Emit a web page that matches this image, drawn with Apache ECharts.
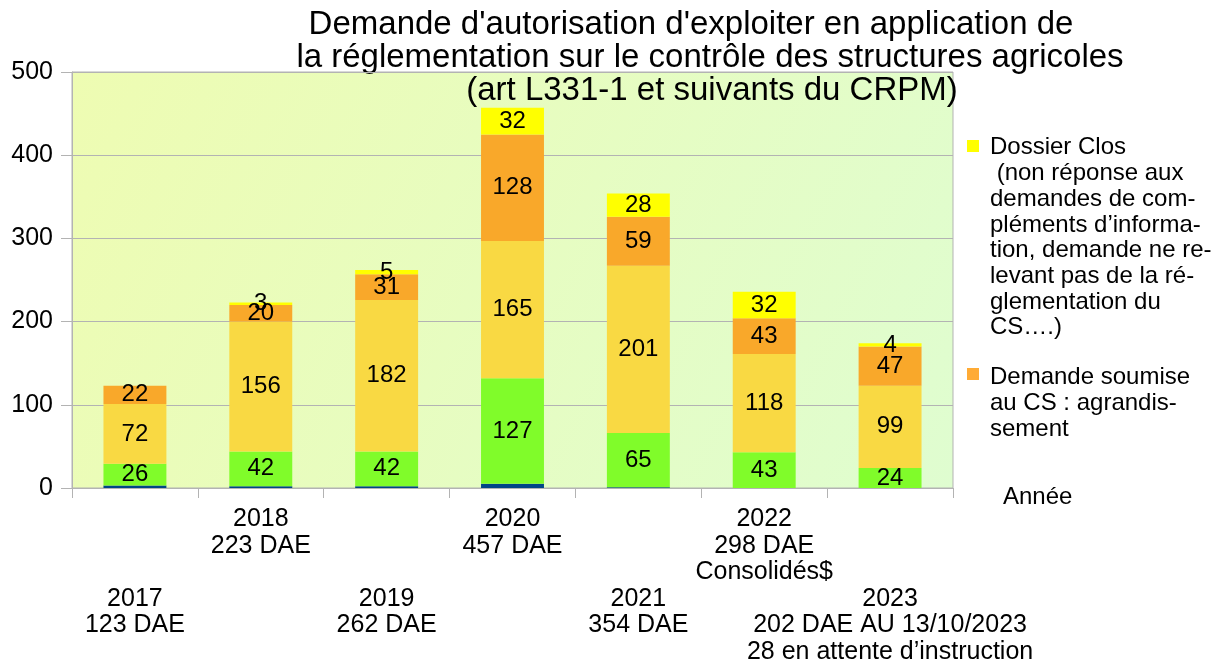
<!DOCTYPE html>
<html><head><meta charset="utf-8">
<script src="https://cdn.jsdelivr.net/npm/echarts@6/dist/echarts.min.js"></script>
<style>html,body{margin:0;padding:0;background:#fff}#c{width:1228px;height:659px}</style>
</head><body><div id="c"></div>
<script>
// ---- data ----
const categories = [
  '2017\n123 DAE',
  '2018\n223 DAE',
  '2019\n262 DAE',
  '2020\n457 DAE',
  '2021\n354 DAE',
  '2022\n298 DAE\nConsolidés$',
  '2023\n202 DAE AU 13/10/2023\n28 en attente d’instruction'
];
const seriesNames = [
  'Autre',
  'Demande non soumise au CS',
  'Demande soumise au CS : installation',
  'Demande soumise au CS : agrandissement',
  'Dossier Clos'
];
const blueValues   = [3, 2, 2, 5, 1, 0, 0];
const greenValues  = [26, 42, 42, 127, 65, 43, 24];
const lightValues  = [72, 156, 182, 165, 201, 118, 99];
const orangeValues = [22, 20, 31, 128, 59, 43, 47];
const yellowValues = [0, 3, 5, 32, 28, 32, 4];
const yTicks = [0, 100, 200, 300, 400, 500];
const titleLines = [
  "Demande d'autorisation d'exploiter en application de",
  "la réglementation sur le contrôle des structures agricoles",
  "(art L331-1 et suivants du CRPM)"
];
const legendTexts = [
  'Dossier Clos\n (non réponse aux\ndemandes de com-\npléments d’informa-\ntion, demande ne re-\nlevant pas de la ré-\nglementation du\nCS….)',
  'Demande soumise\nau CS : agrandis-\nsement'
];
const axisName = 'Année';

// ---- chart ----
const FONT = 'Liberation Sans, Arial, sans-serif';
const colors = ['#004586', '#80fc2a', '#f9d943', '#f9a82a', '#ffff00'];
const legendColors = ['#ffff00', '#ffab35'];
const valueSets = [blueValues, greenValues, lightValues, orangeValues, yellowValues];

const series = valueSets.map((vals, i) => ({
  name: seriesNames[i],
  type: 'bar',
  stack: 'total',
  barWidth: '50%',
  data: vals,
  itemStyle: { color: colors[i] },
  label: {
    show: i > 0,
    position: 'inside',
    color: '#000',
    fontFamily: FONT,
    fontSize: 24,
    formatter: p => (p.value ? String(p.value) : '')
  },
  emphasis: { disabled: true },
  silent: true
}));

const chart = echarts.init(document.getElementById('c'), null, { renderer: 'canvas' });
chart.setOption({
  animation: false,
  backgroundColor: '#ffffff',
  grid: {
    left: 72, right: 275, top: 72, bottom: 171,
    outerBoundsMode: 'none',
    containLabel: false,
    show: true,
    borderColor: '#b3b3b3', borderWidth: 1,
    backgroundColor: {
      type: 'linear', x: 0, y: 0, x2: 1, y2: 1,
      colorStops: [{ offset: 0, color: '#eefcb2' }, { offset: 1, color: '#dffdd0' }]
    }
  },
  xAxis: {
    type: 'category',
    data: categories,
    name: axisName,
    nameLocation: 'end',
    nameGap: 50,
    nameMoveOverlap: false,
    nameTextStyle: { color: '#000', fontFamily: FONT, fontSize: 24, align: 'left', verticalAlign: 'top', lineHeight: 18 },
    axisLine: { lineStyle: { color: '#b3b3b3' } },
    axisTick: { show: true, length: 10, lineStyle: { color: '#b3b3b3' } },
    axisLabel: {
      interval: 0,
      hideOverlap: false,
      margin: 18,
      color: '#000',
      fontFamily: FONT,
      fontSize: 25,
      lineHeight: 26.5,
      formatter: (v, idx) => (idx % 2 === 0 ? '\n\n\n' + v : v)
    }
  },
  yAxis: {
    type: 'value',
    min: yTicks[0], max: yTicks[yTicks.length - 1], interval: 100,
    axisLine: { show: true, lineStyle: { color: '#b3b3b3' } },
    axisTick: { show: true, length: 11, lineStyle: { color: '#b3b3b3' } },
    splitLine: { lineStyle: { color: '#b3b3b3' } },
    axisLabel: { margin: 19, color: '#000', fontFamily: FONT, fontSize: 25 }
  },
  series: series,
  graphic: [
    { type: 'text', x: 691, y: 25, style: { text: titleLines[0], align: 'center', verticalAlign: 'middle', font: '33px ' + FONT, fill: '#000' } },
    { type: 'text', x: 710, y: 58, style: { text: titleLines[1], align: 'center', verticalAlign: 'middle', font: '33px ' + FONT, fill: '#000' } },
    { type: 'text', x: 712, y: 91, style: { text: titleLines[2], align: 'center', verticalAlign: 'middle', font: '33px ' + FONT, fill: '#000' } },
    { type: 'rect', shape: { x: 967, y: 140, width: 12, height: 12 }, style: { fill: legendColors[0] } },
    { type: 'text', x: 990, y: 135, style: { text: legendTexts[0], align: 'left', verticalAlign: 'top', font: '24px ' + FONT, lineHeight: 25.7, fill: '#000' } },
    { type: 'rect', shape: { x: 967, y: 368, width: 12, height: 12 }, style: { fill: legendColors[1] } },
    { type: 'text', x: 990, y: 365, style: { text: legendTexts[1], align: 'left', verticalAlign: 'top', font: '24px ' + FONT, lineHeight: 25.7, fill: '#000' } }
  ]
});
</script>
</body></html>
